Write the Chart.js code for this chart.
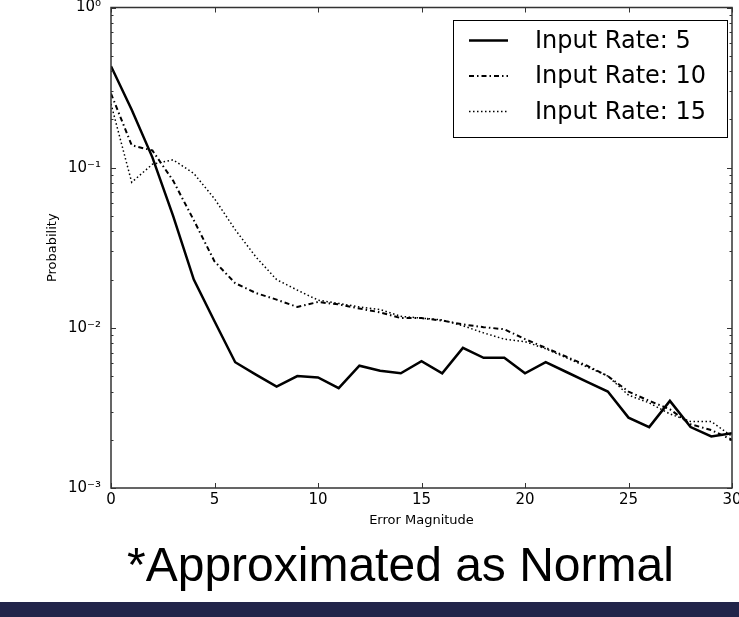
<!DOCTYPE html>
<html>
<head>
<meta charset="utf-8">
<script src="https://cdn.jsdelivr.net/npm/chart.js@4.4.1/dist/chart.umd.min.js"></script>
<style>
html, body { margin: 0; padding: 0; background: #fff; }
#wrap { width: 739px; height: 617px; position: relative; }
</style>
</head>
<body>
<div id="wrap"><canvas id="chart" width="739" height="617"></canvas></div>
<script>
// values (log scale)
const errorMagnitude = [0,1,2,3,4,5,6,7,8,9,10,11,12,13,14,15,16,17,18,19,20,21,22,23,24,25,26,27,28,29,30]
const rate5 = [0.43,0.23,0.116,0.05,0.020,0.011,0.0061,0.0051,0.0043,0.0050,0.0049,0.0042,0.0058,0.0054,0.0052,0.0062,
    0.0052,0.0075,0.0065,0.0065,0.0052,0.0061,0.0053,0.0046,0.0040,0.00275,0.0024,0.0035,0.0024,0.0021,0.0022]
const rate10 = [0.29,0.138,0.128,0.083,0.047,0.026,0.019,0.0165,0.015,0.0135,0.0145,0.014,0.0132,0.0125,0.0115,0.0115,
    0.0111,0.0105,0.0101,0.0098,0.0085,0.0075,0.0066,0.0058,0.0050,0.0040,0.0035,0.0031,0.0025,0.0023,0.0020]
const rate15 = [0.25,0.081,0.105,0.112,0.092,0.064,0.041,0.0277,0.020,0.0172,0.0149,0.0142,0.0135,0.013,0.0118,0.0115,
    0.0112,0.0103,0.0093,0.0085,0.0082,0.0074,0.0065,0.0057,0.0050,0.0038,0.0034,0.0029,0.0026,0.0026,0.0021]
const seriesNames = ['Input Rate: 5', 'Input Rate: 10', 'Input Rate: 15']
const xTickStep = 5
const footnote = '*Approximated as Normal'

Chart.defaults.font.family = '"DejaVu Sans", sans-serif'
Chart.defaults.color = '#000'

const sup = { '-': '⁻', '0': '⁰', '1': '¹', '2': '²', '3': '³' }
function powLabel(v) {
    const lg = Math.log10(v)
    const e = Math.round(lg)
    if (Math.abs(lg - e) > 1e-6) return ''
    return '10' + String(e).split('').map(c => sup[c]).join('')
}

const toPoints = arr => errorMagnitude.map((x, i) => ({ x: x, y: arr[i] }))

const datasets = [
    { label: seriesNames[0], data: toPoints(rate5), borderColor: '#000', borderWidth: 2.5, borderDash: [], order: 3 },
    { label: seriesNames[1], data: toPoints(rate10), borderColor: '#000', borderWidth: 2, borderDash: [5, 3, 1.5, 3], order: 2 },
    { label: seriesNames[2], data: toPoints(rate15), borderColor: '#000', borderWidth: 1.5, borderDash: [1.5, 2.5], order: 1 }
].map(d => Object.assign(d, { pointRadius: 0, tension: 0, fill: false }))

const decor = {
    id: 'decor',
    afterDraw(chart) {
        const { ctx, chartArea: a, scales: { x, y } } = chart
        ctx.save()
        // frame
        ctx.strokeStyle = '#333'
        ctx.lineWidth = 1.5
        ctx.strokeRect(a.left, a.top, a.right - a.left, a.bottom - a.top)
        // inward ticks
        ctx.lineWidth = 1
        ctx.beginPath()
        for (let v = x.min; v <= x.max; v += xTickStep) {
            const px = Math.round(x.getPixelForValue(v)) + 0.5
            ctx.moveTo(px, a.bottom); ctx.lineTo(px, a.bottom - 5)
            ctx.moveTo(px, a.top); ctx.lineTo(px, a.top + 5)
        }
        for (let e = -3; e <= 0; e++) {
            for (let k = 1; k <= 9; k++) {
                const v = k * Math.pow(10, e)
                if (v > y.max * 1.0001) break
                const py = Math.round(y.getPixelForValue(v)) + 0.5
                const len = k === 1 ? 5 : 2.5
                ctx.moveTo(a.left, py); ctx.lineTo(a.left + len, py)
                ctx.moveTo(a.right, py); ctx.lineTo(a.right - len, py)
            }
        }
        ctx.stroke()

        // legend box
        const bx = a.right - 279, by = a.top + 12.5, bw = 274, bh = 117
        ctx.fillStyle = '#fff'
        ctx.fillRect(bx, by, bw, bh)
        ctx.strokeStyle = '#000'
        ctx.lineWidth = 1
        ctx.strokeRect(bx + 0.5, by + 0.5, bw, bh)
        ctx.font = '24px "DejaVu Sans"'
        ctx.textBaseline = 'middle'
        ctx.fillStyle = '#000'
        chart.data.datasets.forEach((ds, i) => {
            const ry = by + 20.5 + i * 35.5
            ctx.save()
            ctx.strokeStyle = ds.borderColor
            ctx.lineWidth = ds.borderWidth
            ctx.setLineDash(ds.borderDash)
            ctx.beginPath()
            ctx.moveTo(bx + 16, ry); ctx.lineTo(bx + 55, ry)
            ctx.stroke()
            ctx.restore()
            ctx.fillText(ds.label, bx + 82, ry + 1)
        })

        // slide footnote and bottom bar
        ctx.font = '48px "Liberation Sans", Arial, sans-serif'
        ctx.textBaseline = 'alphabetic'
        ctx.fillStyle = '#000'
        ctx.fillText(footnote, 127, 581)
        ctx.fillStyle = '#22254a'
        ctx.fillRect(0, 602, 739, 15)
        ctx.restore()
    }
}

const ctx = document.getElementById('chart').getContext('2d')
new Chart(ctx, {
    type: 'line',
    data: { datasets: datasets },
    options: {
        responsive: false,
        animation: false,
        layout: { padding: { left: 0, top: 7.5, right: 7, bottom: 77 } },
        plugins: { legend: { display: false }, tooltip: { enabled: false } },
        scales: {
            x: {
                type: 'linear',
                min: 0,
                max: 30,
                grid: { display: false, drawTicks: false },
                border: { display: false },
                ticks: { stepSize: xTickStep, padding: 3, font: { size: 15 }, maxRotation: 0 },
                title: { display: true, text: 'Error Magnitude', font: { size: 13 }, padding: { top: 0, bottom: 12 } },
                afterFit: scale => { scale.height = 52; scale.paddingLeft = 0; scale.paddingRight = 0 }
            },
            y: {
                type: 'logarithmic',
                min: 0.001,
                max: 1,
                grid: { display: false, drawTicks: false },
                border: { display: false },
                ticks: { autoSkip: false, padding: 10, font: { size: 15, lineHeight: 1 }, callback: v => powLabel(v) },
                title: { display: true, text: 'Probability', font: { size: 13 }, padding: { top: 45, bottom: 0 } },
                afterFit: scale => { scale.width = 111; scale.paddingTop = 0; scale.paddingBottom = 0 }
            }
        }
    },
    plugins: [decor]
});
</script>
</body>
</html>
